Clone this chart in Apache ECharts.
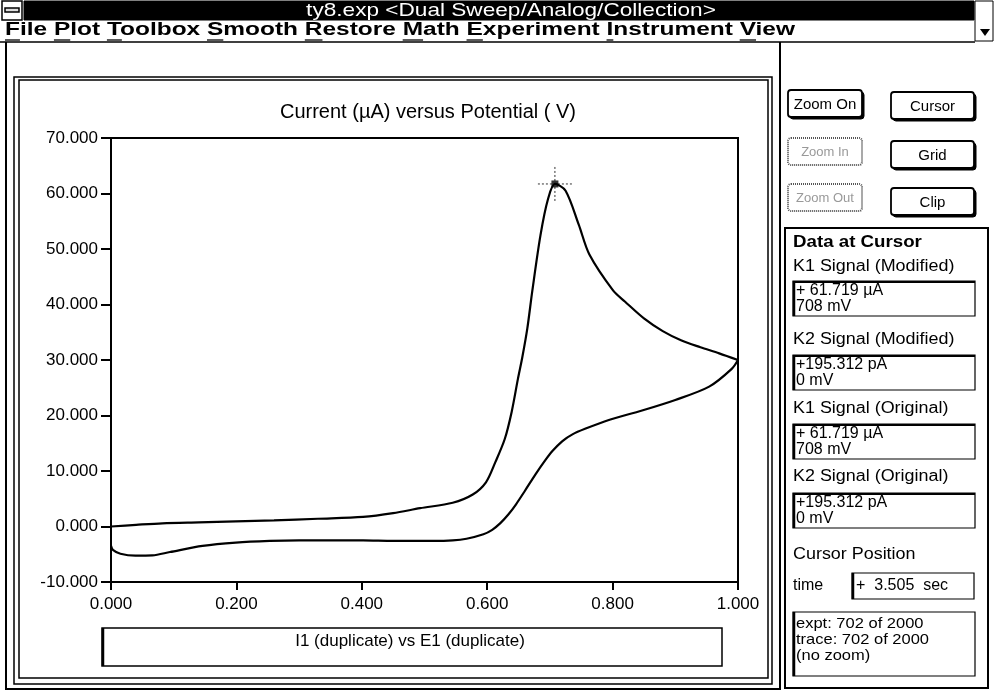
<!DOCTYPE html>
<html>
<head>
<meta charset="utf-8">
<script src="https://cdn.jsdelivr.net/npm/echarts@6/dist/echarts.min.js"></script>
<style>
html,body{margin:0;padding:0;background:#fff;}
#c{width:994px;height:694px;}
</style>
</head>
<body>
<div id="c"></div>
<script>
// ---- data ----
const E_forward = [0.000, 0.040, 0.082, 0.140, 0.199, 0.260, 0.330, 0.402, 0.450, 0.493, 0.545, 0.577, 0.598, 0.613, 0.628, 0.639, 0.649, 0.656, 0.664, 0.672, 0.685, 0.697, 0.708, 0.725, 0.746, 0.763, 0.801, 0.820, 0.850, 0.880, 0.910, 0.940, 0.970, 1.000];
const I_forward = [0.0, 0.3, 0.58, 0.75, 0.92, 1.1, 1.4, 1.73, 2.4, 3.3, 4.28, 5.76, 7.96, 11.6, 15.76, 20.65, 26.6, 30.5, 35.7, 42.5, 52.5, 59.0, 61.719, 60.5, 54.4, 49.0, 42.5, 40.5, 37.5, 35.2, 33.5, 32.3, 31.2, 30.0];
const E_reverse = [1.000, 0.990, 0.954, 0.900, 0.847, 0.794, 0.756, 0.736, 0.720, 0.704, 0.693, 0.677, 0.660, 0.646, 0.634, 0.621, 0.608, 0.594, 0.567, 0.545, 0.514, 0.450, 0.402, 0.359, 0.300, 0.253, 0.199, 0.146, 0.094, 0.066, 0.039, 0.015, 0.003, 0.000];
const I_reverse = [30.0, 28.4, 25.2, 22.8, 20.9, 19.2, 17.6, 16.6, 15.4, 13.6, 12.0, 9.4, 6.4, 4.0, 2.2, 0.6, -0.6, -1.4, -2.2, -2.5, -2.6, -2.6, -2.5, -2.5, -2.5, -2.6, -2.9, -3.5, -4.6, -5.2, -5.25, -4.9, -4.2, -3.5];
const cursorE = 0.708;
const cursorI = 61.719;
const xTicks = [0, 0.2, 0.4, 0.6, 0.8, 1.0];
const yTicks = [-10, 0, 10, 20, 30, 40, 50, 60, 70];

const chartTitle = 'Current (\u00b5A) versus Potential ( V)';
const windowTitle = 'ty8.exp <Dual Sweep/Analog/Collection>';
const menuItems = ['File', 'Plot', 'Toolbox', 'Smooth', 'Restore', 'Math', 'Experiment', 'Instrument', 'View'];
const legendText = 'I1 (duplicate) vs E1 (duplicate)';

const zip = (a, b) => a.map((v, i) => [v, b[i]]);

const FONT = '"Liberation Sans", Arial, sans-serif';
const measureCtx = document.createElement('canvas').getContext('2d');
function measure(t, font) { measureCtx.font = font; return measureCtx.measureText(t).width; }

const g = [];
function rect(x, y, w, h, opt) {
  g.push(Object.assign({type: 'rect', shape: {x: x, y: y, width: w, height: h, r: (opt && opt.r) || 0},
    style: {fill: (opt && opt.fill) || 'none', stroke: (opt && opt.stroke) || '#000', lineWidth: (opt && opt.lw) || 1, lineDash: (opt && opt.dash) || null},
    silent: true, z: 10}));
}
function line(x1, y1, x2, y2, lw, color) {
  g.push({type: 'line', shape: {x1: x1, y1: y1, x2: x2, y2: y2}, style: {stroke: color || '#000', lineWidth: lw || 1}, silent: true, z: 11});
}
function text(t, x, y, size, opt) {
  opt = opt || {};
  g.push({type: 'text', x: x, y: y, scaleX: opt.sx || 1, z: 12, silent: true,
    style: {text: t, font: (opt.weight || 'normal') + ' ' + size + 'px ' + (opt.family || FONT), fill: opt.fill || '#000',
      textAlign: opt.align || 'left', textVerticalAlign: 'middle'}});
}

// title bar
rect(24, 1, 950, 19, {fill: '#000', stroke: '#000'});
rect(2, 1, 20, 19, {fill: '#fff', stroke: '#000', lw: 1.5});
rect(5, 8, 14, 4, {fill: '#ddd', stroke: '#000', lw: 1.5});
text(windowTitle, 511, 11, 19, {fill: '#fff', align: 'center', sx: 1.19});
rect(975, 1, 18, 40, {fill: '#fff', stroke: '#000', lw: 1});
g.push({type: 'polygon', shape: {points: [[980, 29], [990, 29], [985, 36]]}, style: {fill: '#000'}, silent: true, z: 12});
// menu: one string, fitted to the span it has in the picture
(function () {
  const font = 'bold 18px ' + FONT;
  const menuStr = menuItems.join(' ');
  const x0 = 5, span = 790;
  const sx = span / measure(menuStr, font);
  text(menuStr, x0, 30, 18, {weight: 'bold', sx: sx});
  let prefix = '';
  menuItems.forEach(function (m) {
    const ux = x0 + measure(prefix, font) * sx;
    const uw = measure(m[0], font) * sx;
    line(ux, 40, ux + uw, 40, 1.3);
    prefix += m + ' ';
  });
})();
line(0, 42, 975, 42, 1.5);
// outer window frame
line(6, 42, 6, 690, 2);
line(6, 689, 780, 689, 2);
// plot panel double border
rect(14, 77, 758, 607, {lw: 1.5});
rect(19, 80, 749, 598, {lw: 1.5});
line(780, 42, 780, 690, 2);
// legend box
rect(102, 628, 620, 38, {lw: 1.5});
line(103, 628, 103, 666, 2.5);
text(legendText, 410, 641, 17, {align: 'center'});

// right side buttons
function button(label, x, y, w, h, enabled) {
  if (enabled) {
    rect(x + 2, y + 2, w, h, {fill: '#000', stroke: '#000', r: 3});
    rect(x, y, w, h, {fill: '#fff', stroke: '#000', lw: 1.8, r: 3});
    text(label, x + w / 2, y + h / 2 + 1, 15, {align: 'center'});
  } else {
    rect(x, y, w, h, {fill: '#fff', stroke: '#555', lw: 2, r: 3, dash: [1, 1]});
    text(label, x + w / 2, y + h / 2 + 1, 13, {align: 'center', fill: '#999'});
  }
}
button('Zoom On', 788, 90, 74, 27, true);
button('Cursor', 891, 92, 83, 27, true);
button('Zoom In', 788, 138, 74, 27, false);
button('Grid', 891, 141, 83, 27, true);
button('Zoom Out', 788, 184, 74, 27, false);
button('Clip', 891, 188, 83, 27, true);

// data at cursor panel
rect(785, 228, 203, 460, {lw: 2});
text('Data at Cursor', 793, 242, 17, {weight: 'bold', sx: 1.1});
function field(label, ly, l1, l2, by) {
  text(label, 793, ly, 16, {sx: 1.12});
  rect(793, by, 182, 35, {lw: 1.2});
  line(794, by, 794, by + 35, 2.5);
  line(793, by + 1, 975, by + 1, 2);
  text(l1, 796, by + 10, 16);
  text(l2, 796, by + 26, 16);
}
field('K1 Signal (Modified)', 267, '+ 61.719 \u00b5A', '708 mV', 281);
field('K2 Signal (Modified)', 340, '+195.312 pA', '0 mV', 355);
field('K1 Signal (Original)', 409, '+ 61.719 \u00b5A', '708 mV', 424);
field('K2 Signal (Original)', 477, '+195.312 pA', '0 mV', 493);
text('Cursor Position', 793, 555, 16, {sx: 1.12});
text('time', 793, 586, 16);
rect(852, 573, 122, 26, {lw: 1.2});
line(853, 573, 853, 599, 2.5);
text('+  3.505  sec', 856, 586, 16);
rect(793, 612, 182, 64, {lw: 1.2});
line(794, 612, 794, 676, 2.5);
text('expt: 702 of 2000', 796, 624, 15, {sx: 1.1});
text('trace: 702 of 2000', 796, 640, 15, {sx: 1.1});
text('(no zoom)', 796, 656, 15, {sx: 1.1});

const chart = echarts.init(document.getElementById('c'));
chart.setOption({
  animation: false,
  backgroundColor: '#fff',
  title: {text: chartTitle, left: 423, top: 97, textAlign: 'center',
    textStyle: {fontFamily: FONT, fontSize: 20, fontWeight: 'normal', color: '#000'}},
  grid: {left: 111, right: 256, top: 138, bottom: 112, show: true, borderColor: '#000', borderWidth: 2, backgroundColor: 'transparent'},
  xAxis: {type: 'value', min: xTicks[0], max: xTicks[xTicks.length - 1], interval: 0.2,
    axisLine: {show: true, onZero: false, lineStyle: {color: '#000', width: 2}},
    axisTick: {show: true, length: 8, lineStyle: {color: '#000', width: 2}},
    splitLine: {show: false},
    axisLabel: {color: '#000', fontFamily: FONT, fontSize: 17, margin: 14, formatter: v => v.toFixed(3)}},
  yAxis: {type: 'value', min: yTicks[0], max: yTicks[yTicks.length - 1], interval: 10,
    axisLine: {show: true, onZero: false, lineStyle: {color: '#000', width: 2}},
    axisTick: {show: true, length: 10, lineStyle: {color: '#000', width: 2}},
    splitLine: {show: false},
    axisLabel: {color: '#000', fontFamily: FONT, fontSize: 17, margin: 13, formatter: v => v.toFixed(3)}},
  series: [
    {type: 'line', name: 'forward', data: zip(E_forward, I_forward), showSymbol: false, smooth: 0.3,
      lineStyle: {color: '#000', width: 2.2}},
    {type: 'line', name: 'reverse', data: zip(E_reverse, I_reverse), showSymbol: false, smooth: 0.3,
      lineStyle: {color: '#000', width: 2.2}},
    {type: 'scatter', data: [[cursorE, cursorI]], symbol: 'path://M0,16L32,16M16,0L16,32', symbolSize: 34,
      itemStyle: {color: 'rgba(0,0,0,0)', borderColor: '#000', borderWidth: 1, borderType: [2, 2]}, z: 5},
    {type: 'scatter', data: [[cursorE, cursorI]], symbol: 'rect', symbolSize: 7, itemStyle: {color: '#000'}, z: 6}
  ],
  graphic: g
});
</script>
</body>
</html>
